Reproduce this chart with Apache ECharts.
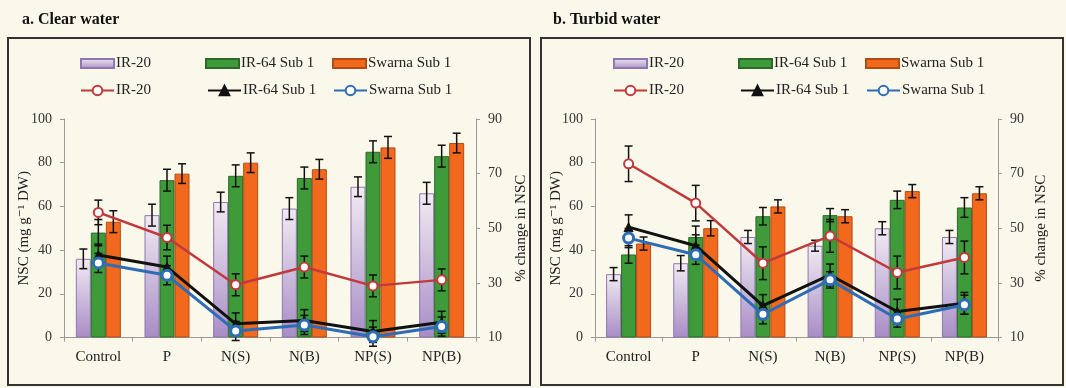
<!DOCTYPE html>
<html>
<head>
<meta charset="utf-8">
<script src="https://cdn.jsdelivr.net/npm/echarts@6/dist/echarts.min.js"></script>
<style>
  html, body { margin: 0; padding: 0; background: #faf8ea; }
  #wrap { position: relative; width: 1066px; height: 388px; }
  .panel { position: absolute; top: 0; width: 533px; height: 388px; }
</style>
</head>
<body>
<div id="wrap">
  <div id="clearChart" class="panel" style="left:0"></div>
  <div id="turbidChart" class="panel" style="left:533px"></div>
</div>
<script>
// カテゴリ
const categories = ['Control', 'P', 'N(S)', 'N(B)', 'NP(S)', 'NP(B)'];
const nscTicks = [0, 20, 40, 60, 80, 100];
const changeTicks = [10, 30, 50, 70, 90];

// a. Clear water - NSC (棒)
const clearIR20 = [36, 56, 62, 59, 69, 66];
const clearIR20Err = [4.5, 5, 4.5, 5, 4.5, 5];
const clearIR64 = [48, 72, 74, 73, 85, 83];
const clearIR64Err = [6, 5, 5, 5, 5, 5];
const clearSwarna = [53, 75, 80, 77, 87, 89];
const clearSwarnaErr = [5, 4.5, 4.5, 4.5, 5, 4.5];
// a. Clear water - % change (線)
const clearIR20Chg = [55.8, 46.6, 29.3, 35.8, 28.9, 31.1];
const clearIR20ChgErr = [4.5, 4.5, 4, 4, 4, 4];
const clearIR64Chg = [40.2, 35.8, 15, 16.2, 12.2, 15.6];
const clearIR64ChgErr = [4, 4, 4, 4, 4, 4];
const clearSwarnaChg = [37.3, 32.8, 12.4, 14.6, 10.3, 14];
const clearSwarnaChgErr = [3.5, 3.5, 3.5, 3.5, 3.5, 3.5];

// b. Turbid water - NSC (棒)
const turbidIR20 = [29, 34, 46, 42, 50, 46];
const turbidIR20Err = [3, 3.5, 3, 2.5, 3, 3];
const turbidIR64 = [38, 46, 55.5, 56, 63, 59.5];
const turbidIR64Err = [4, 5, 4, 3, 4, 4.5];
const turbidSwarna = [43, 50, 60, 55.5, 67, 66];
const turbidSwarnaErr = [3, 3.5, 3, 3, 3, 3];
// b. Turbid water - % change (線)
const turbidIR20Chg = [73.6, 59.2, 37.2, 47.2, 33.8, 39.3];
const turbidIR20ChgErr = [6.5, 6.5, 6, 6, 6, 6];
const turbidIR64Chg = [50.4, 43.6, 21.7, 32.9, 19.5, 22.5];
const turbidIR64ChgErr = [4.5, 4, 4, 4, 4.5, 4];
const turbidSwarnaChg = [46.4, 40.3, 18.5, 31.1, 16.8, 22];
const turbidSwarnaChgErr = [3.5, 3.5, 3.5, 3, 3, 3.5];

const SERIF = "'Liberation Serif', 'DejaVu Serif', serif";
const BAR_W = 15;
const CHG = ' (% change)';

// エラーバー(カスタムシリーズ)
function errorSeries(values, errs, offset, yAxisIndex, z) {
    return {
        type: 'custom',
        yAxisIndex: yAxisIndex,
        silent: true,
        z: z,
        data: values.map((v, i) => [i, v, errs[i]]),
        renderItem: function (params, api) {
            const hi = api.coord([api.value(0), api.value(1) + api.value(2)]);
            const lo = api.coord([api.value(0), api.value(1) - api.value(2)]);
            const x = hi[0] + offset;
            const cap = 4;
            const style = { stroke: '#111', lineWidth: 1.5 };
            return {
                type: 'group',
                children: [
                    { type: 'line', shape: { x1: x, y1: hi[1], x2: x, y2: lo[1] }, style: style },
                    { type: 'line', shape: { x1: x - cap, y1: hi[1], x2: x + cap, y2: hi[1] }, style: style },
                    { type: 'line', shape: { x1: x - cap, y1: lo[1], x2: x + cap, y2: lo[1] }, style: style }
                ]
            };
        }
    };
}

function legendItem(name, left, top, isBar) {
    return {
        data: [name],
        left: left,
        top: top,
        padding: 0,
        selectedMode: false,
        icon: isBar ? 'rect' : undefined,
        itemWidth: 33,
        itemHeight: isBar ? 9 : 12,
        formatter: n => n.replace(CHG, ''),
        textStyle: { fontFamily: SERIF, fontSize: 15, color: '#222', padding: [0, 0, 0, -3] }
    };
}

function buildOption(p) {
    const axisLabel = { fontFamily: SERIF, fontSize: 14, color: '#333' };
    const axisLine = { show: true, lineStyle: { color: '#999', width: 1 } };
    return {
        animation: false,
        backgroundColor: 'transparent',
        title: {
            text: p.title,
            left: p.titleLeft,
            top: 12,
            padding: 0,
            textStyle: { fontFamily: SERIF, fontSize: 16, fontWeight: 'bold', color: '#111' }
        },
        graphic: [{
            type: 'rect',
            shape: { x: 8, y: 38, width: 522, height: 347 },
            style: { fill: 'transparent', stroke: '#333', lineWidth: 2 }
        }],
        legend: [
            legendItem('IR-20', 80, 56, true),
            legendItem('IR-64 Sub 1', 205, 56, true),
            legendItem('Swarna Sub 1', 332, 56, true),
            legendItem('IR-20' + CHG, 80, 83, false),
            legendItem('IR-64 Sub 1' + CHG, 207, 83, false),
            legendItem('Swarna Sub 1' + CHG, 333, 83, false)
        ],
        grid: {
            left: p.gridLeft, right: p.gridRight, top: 119, bottom: 50.5,
            outerBoundsMode: 'none'
        },
        xAxis: {
            type: 'category',
            data: categories,
            axisLine: axisLine,
            axisTick: { show: true, length: 4, lineStyle: { color: '#999' } },
            axisLabel: { fontFamily: SERIF, fontSize: 15, color: '#222', margin: 12 }
        },
        yAxis: [
            {
                type: 'value',
                min: nscTicks[0],
                max: nscTicks[nscTicks.length - 1],
                interval: 20,
                name: 'NSC (mg g⁻¹ DW)',
                nameLocation: 'middle',
                nameRotate: 90,
                nameGap: p.leftNameGap,
                nameMoveOverlap: false,
                nameTextStyle: { fontFamily: SERIF, fontSize: 15, color: '#222' },
                axisLine: axisLine,
                axisTick: { show: true, length: 4, lineStyle: { color: '#999' } },
                axisLabel: Object.assign({ margin: 12 }, axisLabel),
                splitLine: { show: false }
            },
            {
                type: 'value',
                position: 'right',
                min: changeTicks[0],
                max: changeTicks[changeTicks.length - 1],
                interval: 20,
                name: '% change in NSC',
                nameLocation: 'middle',
                nameRotate: 90,
                nameGap: p.rightNameGap,
                nameMoveOverlap: false,
                nameTextStyle: { fontFamily: SERIF, fontSize: 15, color: '#222' },
                axisLine: axisLine,
                axisTick: { show: true, length: 4, lineStyle: { color: '#999' } },
                axisLabel: Object.assign({ margin: 12 }, axisLabel),
                splitLine: { show: false }
            }
        ],
        series: [
            {
                name: 'IR-20', type: 'bar', barWidth: BAR_W, barGap: '0%', z: 2,
                data: p.ir20,
                itemStyle: {
                    color: new echarts.graphic.LinearGradient(0, 0, 0, 1, [
                        { offset: 0, color: '#f1ebf3' },
                        { offset: 1, color: '#a88dc6' }
                    ]),
                    borderColor: '#8f77b0', borderWidth: 1
                }
            },
            {
                name: 'IR-64 Sub 1', type: 'bar', barWidth: BAR_W, barGap: '0%', z: 2,
                data: p.ir64,
                itemStyle: { color: '#3f9a3a', borderColor: '#2b6a2a', borderWidth: 1 }
            },
            {
                name: 'Swarna Sub 1', type: 'bar', barWidth: BAR_W, barGap: '0%', z: 2,
                data: p.swarna,
                itemStyle: { color: '#f2691e', borderColor: '#b04c14', borderWidth: 1 }
            },
            errorSeries(p.ir20, p.ir20Err, -BAR_W, 0, 3),
            errorSeries(p.ir64, p.ir64Err, 0, 0, 3),
            errorSeries(p.swarna, p.swarnaErr, BAR_W, 0, 3),
            errorSeries(p.ir20Chg, p.ir20ChgErr, 0, 1, 4),
            errorSeries(p.ir64Chg, p.ir64ChgErr, 0, 1, 4),
            errorSeries(p.swarnaChg, p.swarnaChgErr, 0, 1, 4),
            {
                name: 'IR-20' + CHG, type: 'line', yAxisIndex: 1, z: 5,
                data: p.ir20Chg,
                symbol: 'circle', symbolSize: 9,
                lineStyle: { color: '#c0393b', width: 2.5 },
                itemStyle: { color: '#fff', borderColor: '#c0393b', borderWidth: 2 }
            },
            {
                name: 'IR-64 Sub 1' + CHG, type: 'line', yAxisIndex: 1, z: 5,
                data: p.ir64Chg,
                symbol: 'triangle', symbolSize: 9,
                lineStyle: { color: '#111', width: 3 },
                itemStyle: { color: '#111', borderColor: '#111', borderWidth: 1 }
            },
            {
                name: 'Swarna Sub 1' + CHG, type: 'line', yAxisIndex: 1, z: 6,
                data: p.swarnaChg,
                symbol: 'circle', symbolSize: 10,
                lineStyle: { color: '#2e6cb5', width: 3 },
                itemStyle: { color: '#fff', borderColor: '#2e6cb5', borderWidth: 3 }
            }
        ]
    };
}

const clearChart = echarts.init(document.getElementById('clearChart'));
clearChart.setOption(buildOption({
    title: 'a. Clear water', titleLeft: 22,
    gridLeft: 64, gridRight: 57, leftNameGap: 32, rightNameGap: 38,
    ir20: clearIR20, ir20Err: clearIR20Err,
    ir64: clearIR64, ir64Err: clearIR64Err,
    swarna: clearSwarna, swarnaErr: clearSwarnaErr,
    ir20Chg: clearIR20Chg, ir20ChgErr: clearIR20ChgErr,
    ir64Chg: clearIR64Chg, ir64ChgErr: clearIR64ChgErr,
    swarnaChg: clearSwarnaChg, swarnaChgErr: clearSwarnaChgErr
}));

const turbidChart = echarts.init(document.getElementById('turbidChart'));
turbidChart.setOption(buildOption({
    title: 'b. Turbid water', titleLeft: 20,
    gridLeft: 62, gridRight: 68, leftNameGap: 31, rightNameGap: 36,
    ir20: turbidIR20, ir20Err: turbidIR20Err,
    ir64: turbidIR64, ir64Err: turbidIR64Err,
    swarna: turbidSwarna, swarnaErr: turbidSwarnaErr,
    ir20Chg: turbidIR20Chg, ir20ChgErr: turbidIR20ChgErr,
    ir64Chg: turbidIR64Chg, ir64ChgErr: turbidIR64ChgErr,
    swarnaChg: turbidSwarnaChg, swarnaChgErr: turbidSwarnaChgErr
}));
</script>
</body>
</html>
